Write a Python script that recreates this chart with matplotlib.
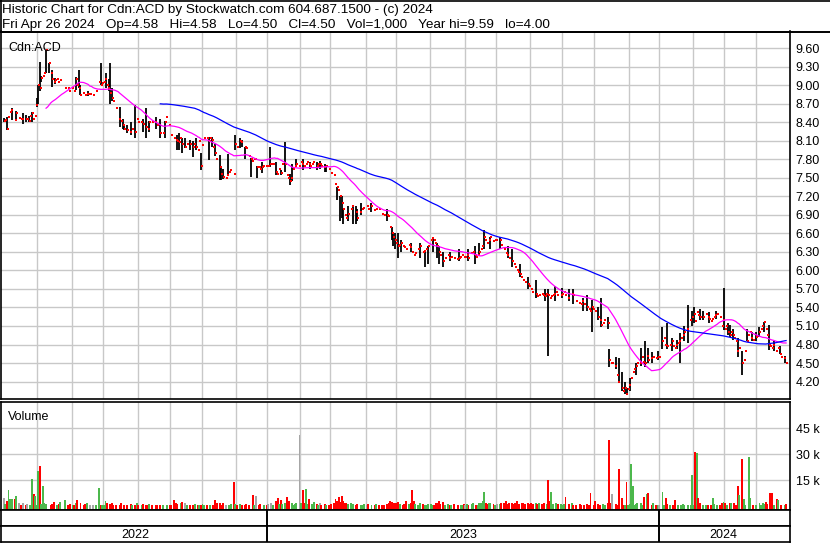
import numpy as np
import pandas as pd
import matplotlib
matplotlib.use("Agg")
import matplotlib.pyplot as plt
from matplotlib.lines import Line2D

plt.rcParams['font.family'] = ['Liberation Sans', 'DejaVu Sans']

# TSX holidays inside the window (no trading days)
holidays = ['2022-05-23', '2022-07-01', '2022-08-01', '2022-09-05', '2022-10-10',
            '2022-12-26', '2022-12-27', '2023-01-02', '2023-02-20', '2023-04-07',
            '2023-05-22', '2023-07-03', '2023-08-07', '2023-09-04', '2023-10-09',
            '2023-12-25', '2023-12-26', '2024-01-01', '2024-02-19', '2024-03-29']

# Daily closes, one list per month
c_2204 = [8.42]
c_2205 = [8.44, 8.30, 8.48, 8.57, 8.60, 8.52, 8.44, 8.55, 8.47, 8.47, 8.45, 8.45, 8.47, 8.45, 8.45, 8.42, 8.50, 8.55, 8.45, 8.50, 8.68]
c_2206 = [9.00, 8.95, 9.12, 9.15, 9.20, 9.57, 9.00, 9.36, 9.20, 9.10, 9.05, 9.08, 9.10, 9.05, 9.08, 9.05, 8.90, 8.95, 9.00, 8.95, 8.90, 8.88]
c_2207 = [8.95, 8.90, 9.10, 9.00, 8.95, 8.85, 8.95, 8.88, 8.85, 8.86, 8.86, 8.86, 8.85, 8.85, 8.86, 8.90, 8.88, 9.05, 9.00, 9.04]
c_2208 = [9.05, 9.10, 9.00, 8.95, 8.87, 8.80, 8.75, 8.80, 8.63, 8.60, 8.45, 8.42, 8.35, 8.30, 8.32, 8.27, 8.27, 8.25, 8.30, 8.27, 8.25, 8.45]
c_2209 = [8.40, 8.38, 8.40, 8.38, 8.35, 8.33, 8.30, 8.40, 8.42, 8.40, 8.48, 8.40, 8.36, 8.35, 8.22, 8.20, 8.22, 8.40, 8.48, 8.38, 8.36]
c_2210 = [8.20, 8.18, 8.15, 8.12, 8.10, 8.08, 8.15, 8.05, 8.00, 8.00, 8.05, 8.10, 8.05, 8.02, 8.00, 8.05, 8.00, 7.95, 8.10, 7.70]
c_2211 = [8.03, 8.15, 8.17, 8.15, 8.10, 8.15, 8.12, 8.00, 7.90, 7.80, 7.72, 7.68, 7.57, 7.52, 7.50, 7.50, 7.55, 7.60, 7.62, 7.80, 7.57, 8.05]
c_2212 = [8.00, 8.08, 8.10, 8.08, 8.05, 8.00, 7.98, 7.95, 7.85, 7.80, 7.78, 7.80, 7.80, 7.68, 7.67, 7.65, 7.68, 7.70, 7.72, 7.70]
c_2301 = [7.70, 7.72, 7.72, 7.73, 7.70, 7.60, 7.57, 7.65, 7.58, 7.72, 7.70, 7.72, 7.55, 7.50, 7.45, 7.50, 7.65, 7.70, 7.72, 7.70, 7.70]
c_2302 = [7.75, 7.72, 7.70, 7.72, 7.75, 7.72, 7.70, 7.72, 7.75, 7.72, 7.70, 7.72, 7.72, 7.70, 7.72, 7.68, 7.70, 7.68, 7.65]
c_2303 = [7.58, 7.60, 7.55, 7.40, 7.35, 7.30, 7.20, 7.10, 7.00, 6.90, 6.85, 6.92, 6.95, 7.00, 7.05, 7.00, 6.95, 6.85, 6.90, 6.95, 7.00, 7.02, 7.05]
c_2304 = [7.05, 7.00, 7.02, 7.05, 7.00, 6.98, 7.00, 7.05, 7.00, 6.95, 6.92, 6.90, 6.92, 6.90, 6.88, 6.70, 6.60, 6.55, 6.50]
c_2305 = [6.45, 6.40, 6.42, 6.45, 6.40, 6.38, 6.35, 6.40, 6.42, 6.38, 6.30, 6.25, 6.28, 6.30, 6.35, 6.40, 6.38, 6.30, 6.32, 6.35, 6.40, 6.45]
c_2306 = [6.50, 6.52, 6.50, 6.45, 6.40, 6.30, 6.25, 6.20, 6.15, 6.20, 6.22, 6.25, 6.20, 6.22, 6.25, 6.20, 6.22, 6.18, 6.20, 6.22, 6.25, 6.22]
c_2307 = [6.22, 6.25, 6.20, 6.25, 6.28, 6.30, 6.25, 6.22, 6.25, 6.30, 6.35, 6.40, 6.55, 6.50, 6.45, 6.50, 6.55, 6.50, 6.48, 6.50]
c_2308 = [6.50, 6.45, 6.50, 6.42, 6.40, 6.35, 6.28, 6.25, 6.20, 6.22, 6.15, 6.10, 6.05, 6.00, 5.98, 5.95, 5.90, 5.85, 5.82, 5.80, 5.78, 5.75]
c_2309 = [5.70, 5.65, 5.60, 5.62, 5.58, 5.60, 5.65, 5.62, 5.60, 5.58, 5.62, 5.60, 5.55, 5.58, 5.60, 5.62, 5.65, 5.60, 5.58, 5.60]
c_2310 = [5.62, 5.65, 5.60, 5.58, 5.55, 5.60, 5.62, 5.60, 5.55, 5.50, 5.52, 5.48, 5.45, 5.50, 5.45, 5.42, 5.40, 5.38, 5.35, 5.40, 5.38]
c_2311 = [5.35, 5.30, 5.25, 5.20, 5.12, 5.15, 5.20, 5.18, 5.15, 4.55, 4.50, 4.50, 4.50, 4.45, 4.30, 4.20, 4.15, 4.10, 4.05, 4.10, 4.00, 4.08]
c_2312 = [4.15, 4.25, 4.35, 4.40, 4.45, 4.50, 4.48, 4.50, 4.60, 4.52, 4.50, 4.62, 4.55, 4.60, 4.58, 4.60, 4.62, 4.58, 4.60]
c_2401 = [4.60, 4.70, 4.85, 4.90, 4.80, 4.78, 4.75, 4.80, 4.85, 4.78, 4.75, 4.80, 4.82, 4.85, 4.90, 4.95, 5.00, 4.90, 5.05, 5.10, 5.20, 5.25]
c_2402 = [5.30, 5.18, 5.32, 5.28, 5.25, 5.20, 5.25, 5.28, 5.30, 5.25, 5.22, 5.18, 5.22, 5.25, 5.28, 5.30, 5.35, 5.25, 5.10, 5.20]
c_2403 = [5.05, 5.10, 5.00, 4.95, 5.00, 4.95, 4.90, 4.85, 4.70, 4.75, 4.60, 4.50, 4.55, 4.70, 4.85, 4.95, 5.00, 4.90, 4.88, 4.90]
c_2404 = [4.92, 4.95, 5.00, 5.05, 5.10, 5.16, 5.05, 4.95, 4.80, 4.78, 4.75, 4.80, 4.72, 4.70, 4.75, 4.65, 4.60, 4.55, 4.58, 4.50]

# Daily volume in thousands of shares (0 = no trade), one list per month
v_2204 = [4.5]
v_2205 = [1.0, 2.9, 9.5, 4.0, 4.0, 0, 4.0, 6.0, 0, 1.5, 0.8, 1.5, 0, 0.8, 1.0, 0, 0.8, 15.8, 7.0, 6.0, 0.8]
v_2206 = [20.0, 23.0, 1.0, 11.5, 1.5, 1.0, 0, 0, 0.8, 1.0, 2.5, 0, 0.8, 1.0, 2.5, 0, 0, 3.5, 0, 0.8, 1.0, 0]
v_2207 = [0.5, 0.8, 1.5, 3.3, 0, 1.5, 0, 0.8, 1.0, 2.0, 0, 0.5, 0, 0.5, 0, 0.5, 0, 10.5, 0.8, 0.5]
v_2208 = [0.8, 3.0, 2.0, 0, 1.0, 1.5, 0.8, 0, 0.5, 0, 0.8, 1.5, 0, 0.5, 0, 0.5, 0, 1.0, 0.5, 0, 0.8, 1.5]
v_2209 = [0.5, 0, 0.5, 1.0, 0, 0.5, 0.8, 1.0, 0, 0.5, 0, 0.5, 0.8, 0, 0.5, 0, 0.5, 0, 0.8, 0, 0.5]
v_2210 = [0.5, 0, 3.5, 1.5, 1.0, 0, 2.0, 2.5, 0, 1.5, 0.8, 0, 0.8, 0, 0.5, 1.0, 0, 0.5, 0.8, 0.5]
v_2211 = [1.0, 0.5, 0, 0.8, 0, 0.5, 0, 0.5, 3.5, 2.0, 0, 1.5, 0.8, 2.0, 0, 0.5, 0, 0.8, 1.0, 0, 14.0, 1.0]
v_2212 = [0.5, 0, 1.0, 0.5, 0, 0.8, 1.0, 0, 0.8, 0, 6.6, 0.5, 5.8, 0, 0.5, 1.0, 0, 0.5, 0, 0.8]
v_2301 = [1.0, 0, 1.5, 0.8, 0, 3.0, 4.5, 1.0, 3.5, 1.0, 0, 2.0, 5.0, 3.0, 0, 1.5, 0.8, 1.0, 2.0, 0, 41.0]
v_2302 = [2.0, 9.0, 1.5, 10.0, 1.0, 4.0, 0, 1.0, 2.5, 0, 1.0, 0.5, 1.5, 0.8, 0, 1.0, 0.5, 0, 0.5]
v_2303 = [1.0, 0, 2.0, 4.0, 3.0, 5.0, 2.5, 6.0, 3.0, 1.5, 2.0, 1.0, 0, 1.5, 1.0, 0, 0.8, 1.0, 0, 0.5, 0.8, 1.0, 0]
v_2304 = [0.5, 1.0, 0, 0.8, 0, 0.5, 1.0, 0, 0.5, 0, 0.8, 0.5, 0, 1.0, 1.5, 3.0, 2.5, 1.5, 2.0]
v_2305 = [1.5, 2.5, 1.0, 0, 0.8, 1.0, 3.0, 0, 1.0, 2.0, 9.0, 3.0, 1.0, 0, 0.8, 1.5, 0, 1.0, 0.5, 0.8, 1.0, 0]
v_2306 = [1.0, 0.5, 0.8, 1.5, 2.0, 3.0, 1.0, 0, 2.5, 0.8, 0, 1.0, 0.5, 0.8, 0, 1.0, 0, 0.5, 0, 0.8, 0.5, 1.0]
v_2307 = [0.5, 1.0, 0.8, 0, 1.0, 1.5, 0, 0.8, 0.5, 1.5, 2.0, 3.0, 8.0, 2.0, 1.0, 1.5, 2.0, 0, 1.0, 0.5]
v_2308 = [1.0, 0, 1.0, 1.5, 0, 2.0, 3.0, 1.0, 2.0, 0, 1.5, 1.0, 2.0, 3.0, 1.0, 0, 1.5, 2.0, 1.0, 0, 1.5, 1.0]
v_2309 = [2.0, 1.0, 0, 1.5, 1.0, 2.0, 0, 1.0, 1.5, 0, 1.0, 15.0, 3.0, 8.0, 1.0, 0, 1.5, 1.0, 0, 1.0]
v_2310 = [0.5, 1.0, 5.0, 0, 1.0, 0, 1.5, 0.5, 0, 0.8, 0, 1.0, 0.5, 0, 0.8, 0, 1.0, 0.5, 7.3, 0, 0.5]
v_2311 = [3.0, 0, 1.0, 0.5, 0, 1.0, 0.5, 0, 2.0, 38.2, 1.5, 6.9, 0, 1.0, 0.5, 21.4, 0, 4.5, 0.5, 0.8, 13.8, 0.8]
v_2312 = [1.0, 24.3, 11.5, 0.5, 1.0, 1.5, 0, 2.0, 0.5, 5.0, 0, 6.9, 7.3, 0, 0.5, 1.5, 0, 0.5, 0.8]
v_2401 = [0.5, 0, 8.0, 0.5, 4.7, 1.0, 0, 0.5, 0, 0.8, 3.4, 0, 0.5, 0, 0.8, 1.0, 0.5, 0, 0.5, 0, 0.5, 17.9]
v_2402 = [0.5, 31.3, 30.5, 4.5, 1.5, 0, 0.5, 0, 0.8, 0.5, 0, 0.5, 4.4, 1.0, 0, 0.5, 0, 0.5, 1.5, 2.5]
v_2403 = [1.5, 0.5, 0, 1.5, 2.0, 0, 1.5, 0.5, 11.5, 6.3, 0, 27.2, 4.0, 0.5, 0, 28.2, 4.5, 0, 0.5, 0]
v_2404 = [0.8, 0, 1.5, 0.5, 2.0, 1.0, 2.5, 1.0, 0, 7.8, 7.3, 0.5, 0, 4.0, 3.5, 0, 0.5, 0, 0.5, 1.0]

# Days with a visible high-low range: trading day index, low, high
bar_day = [0, 2, 5, 8, 12, 14, 16, 18, 21, 22, 23, 24, 27, 29, 31, 33, 46, 48, 49, 54, 62,
           65, 67, 68, 69, 74, 76, 77, 79, 81, 84, 89, 91, 93, 97, 100, 103, 111, 112, 114,
           116, 119, 121, 123, 126, 131, 133, 135, 138, 139, 140, 143, 148, 151, 152, 154,
           158, 162, 165, 170, 174, 177, 180, 183, 184, 187, 191, 196, 200, 202, 205, 206,
           213, 215, 216, 217, 220, 223, 225, 226, 228, 235, 245, 248, 249, 250, 252, 254,
           260, 266, 269, 271, 274, 277, 278, 281, 285, 291, 297, 301, 304, 307, 311, 317,
           322, 325, 330, 335, 340, 346, 348, 352, 357, 361, 364, 370, 373, 376, 380, 382,
           386, 387, 391, 393, 395, 397, 398, 400, 404, 407, 410, 412, 414, 418, 421, 424,
           427, 430, 432, 435, 437, 440, 441, 445, 447, 451, 455, 460, 463, 464, 466, 469,
           472, 475, 478, 481, 483, 486, 489, 492, 496, 499]
bar_lo = [8.40, 8.27, 8.44, 8.44, 8.38, 8.40, 8.40, 8.40, 8.65, 8.70, 8.90, 9.05, 9.20, 9.20,
          8.97, 9.02, 8.92, 8.95, 8.88, 8.82, 9.00, 8.95, 8.90, 8.70, 8.75, 8.32, 8.30, 8.27,
          8.22, 8.20, 8.15, 8.25, 8.15, 8.25, 8.30, 8.15, 8.15, 7.95, 7.95, 7.90, 7.98, 7.95,
          7.84, 7.95, 7.63, 7.79, 8.00, 7.85, 7.47, 7.47, 7.48, 7.60, 7.95, 7.98, 8.00, 7.80,
          7.51, 7.50, 7.58, 7.68, 7.55, 7.55, 7.60, 7.38, 7.45, 7.68, 7.62, 7.65, 7.63, 7.65,
          7.60, 7.60, 7.14, 6.80, 6.85, 6.75, 6.80, 6.75, 6.75, 6.80, 6.90, 6.95, 6.80, 6.50,
          6.40, 6.35, 6.20, 6.30, 6.30, 6.20, 6.05, 6.10, 6.30, 6.20, 6.10, 6.05, 6.15, 6.15,
          6.15, 6.10, 6.25, 6.35, 6.35, 6.35, 6.20, 6.05, 5.90, 5.70, 5.55, 5.50, 4.62, 5.50,
          5.55, 5.50, 5.45, 5.35, 5.35, 5.00, 5.20, 5.08, 5.05, 4.44, 4.40, 4.22, 4.05, 4.00,
          4.00, 4.05, 4.30, 4.45, 4.44, 4.50, 4.50, 4.55, 4.72, 4.72, 4.70, 4.72, 4.50, 4.85,
          4.82, 5.10, 5.15, 5.20, 5.20, 5.15, 5.22, 5.03, 4.95, 4.92, 4.88, 4.60, 4.30, 4.85,
          4.85, 4.85, 4.92, 5.00, 4.71, 4.70, 4.65, 4.50]
bar_hi = [8.47, 8.48, 8.63, 8.58, 8.55, 8.52, 8.50, 8.56, 8.80, 9.00, 9.38, 9.15, 9.57, 9.36,
          9.25, 9.12, 9.13, 9.25, 9.00, 8.90, 9.36, 9.20, 9.10, 9.36, 8.95, 8.65, 8.45, 8.35,
          8.35, 8.40, 8.68, 8.45, 8.63, 8.42, 8.48, 8.45, 8.42, 8.20, 8.23, 8.15, 8.15, 8.12,
          8.10, 8.15, 7.90, 8.16, 8.16, 8.05, 7.87, 7.70, 7.65, 7.88, 8.20, 8.15, 8.12, 8.00,
          7.82, 7.70, 7.75, 8.00, 7.75, 7.62, 8.08, 7.57, 7.72, 7.80, 7.80, 7.75, 7.75, 7.78,
          7.73, 7.70, 7.35, 7.10, 7.20, 7.00, 7.05, 7.00, 7.05, 7.00, 7.10, 7.10, 7.00, 6.70,
          6.60, 6.60, 6.60, 6.50, 6.45, 6.45, 6.30, 6.35, 6.55, 6.45, 6.40, 6.30, 6.30, 6.35,
          6.35, 6.40, 6.45, 6.65, 6.55, 6.55, 6.40, 6.35, 6.10, 5.90, 5.85, 5.70, 5.70, 5.75,
          5.72, 5.70, 5.70, 5.55, 5.60, 5.52, 5.40, 5.56, 5.25, 4.72, 4.60, 4.58, 4.35, 4.20,
          4.10, 4.25, 4.50, 4.75, 4.85, 4.75, 4.68, 4.70, 5.08, 5.15, 4.90, 4.88, 4.98, 5.10,
          5.44, 5.35, 5.40, 5.38, 5.35, 5.32, 5.35, 5.72, 5.15, 5.12, 5.05, 4.90, 4.70, 5.05,
          5.00, 5.00, 5.08, 5.16, 5.12, 4.85, 4.78, 4.62]

price_ticks = [4.20, 4.50, 4.80, 5.10, 5.40, 5.70, 6.00, 6.30, 6.60, 6.90, 7.20, 7.50,
               7.80, 8.10, 8.40, 8.70, 9.00, 9.30, 9.60]
vol_ticks = [15, 30, 45]
vol_labels = ["15 k", "30 k", "45 k"]

header1 = "Historic Chart for Cdn:ACD by Stockwatch.com 604.687.1500 - (c) 2024"
header2 = ("Fri Apr 26 2024   Op=4.58   Hi=4.58   Lo=4.50   Cl=4.50   "
           "Vol=1,000   Year hi=9.59   lo=4.00")

# ---- assemble the series ----
close = np.array(c_2204 + c_2205 + c_2206 + c_2207 + c_2208 + c_2209 + c_2210 + c_2211 +
                 c_2212 + c_2301 + c_2302 + c_2303 + c_2304 + c_2305 + c_2306 + c_2307 +
                 c_2308 + c_2309 + c_2310 + c_2311 + c_2312 + c_2401 + c_2402 + c_2403 + c_2404)
volume = np.array(v_2204 + v_2205 + v_2206 + v_2207 + v_2208 + v_2209 + v_2210 + v_2211 +
                  v_2212 + v_2301 + v_2302 + v_2303 + v_2304 + v_2305 + v_2306 + v_2307 +
                  v_2308 + v_2309 + v_2310 + v_2311 + v_2312 + v_2401 + v_2402 + v_2403 + v_2404)
dates = pd.bdate_range('2022-04-29', '2024-04-26', freq='C', holidays=holidays)
n = min(len(dates), len(close), len(volume))
dates, close, volume = dates[:n], close[:n], volume[:n]
x = np.arange(n)

high = close.copy()
low = close.copy()
for d, lo, hi in zip(bar_day, bar_lo, bar_hi):
    if d < n:
        low[d] = min(lo, close[d])
        high[d] = max(hi, close[d])

ma_short = pd.Series(close).rolling(28).mean()
ma_long = pd.Series(close).rolling(101).mean()

chg = np.diff(close, prepend=close[0])
vcol = np.where(chg > 0, '#4cb84c', np.where(chg < 0, '#ff0000', '#a6a6a6'))
traded = (volume > 0) | (high > low)

month_start = [i for i in range(1, n) if dates[i].month != dates[i - 1].month and i > 3]
year_start = [i for i in range(1, n) if dates[i].year != dates[i - 1].year]

# ---- layout in pixels ----
W, H = 830, 543
def rect(x0, y0, x1, y1):
    return [x0 / W, 1 - y1 / H, (x1 - x0) / W, (y1 - y0) / H]

fig = plt.figure(figsize=(W / 100, H / 100), dpi=100)
xlim = (-1.8, 502.5)
grid_c = '#c8c8c8'
frame_lw = 1.2

ax = fig.add_axes(rect(1, 31.5, 790, 398.5))
axv = fig.add_axes(rect(1, 401.5, 790, 509.5))
row1 = fig.add_axes(rect(1, 509.5, 790, 526))
row2 = fig.add_axes(rect(1, 526, 790, 541.5))

# price panel
for m in month_start:
    ax.axvline(m - 0.5, color=grid_c, lw=1.0, zorder=0)
for p in price_ticks:
    ax.axhline(p, color=grid_c, lw=1.0, zorder=0)
ax.vlines(x, low, high, color='black', lw=1.3, zorder=2)
ax.plot(x[traded] + 0.5, close[traded], 's', color='#ff0000', ms=2.1, mew=0, zorder=3)
ax.plot(x, ma_short, color='#ff00ff', lw=0.9, zorder=4)
ax.plot(x, ma_long, color='#0000ff', lw=0.9, zorder=4)
ax.set_xlim(*xlim)
ax.set_ylim(3.925, 9.872)
ax.set_xticks([])
ax.yaxis.tick_right()
ax.set_yticks(price_ticks)
ax.set_yticklabels(["%.2f" % p for p in price_ticks])
ax.tick_params(axis='y', length=0, pad=4, labelsize=9)
ax.text(0.009, 0.948, "Cdn:ACD", transform=ax.transAxes, fontsize=9, va='baseline')

# volume panel
vol_floor = -2.0
for m in month_start:
    axv.axvline(m - 0.5, color=grid_c, lw=1.0, zorder=0)
for v in vol_ticks:
    axv.axhline(v, color=grid_c, lw=1.0, zorder=0)
has_vol = volume > 0
axv.bar(x[has_vol], volume[has_vol] - vol_floor, bottom=vol_floor, width=1.25,
        color=vcol[has_vol], lw=0, zorder=2)
axv.set_xlim(*xlim)
axv.set_ylim(vol_floor, 60.3)
axv.set_xticks([])
axv.yaxis.tick_right()
axv.set_yticks(vol_ticks)
axv.set_yticklabels(vol_labels)
axv.tick_params(axis='y', length=0, pad=4, labelsize=9)
axv.text(0.009, 0.83, "Volume", transform=axv.transAxes, fontsize=9, va='baseline')

# date rows
edges = [-0.5] + [y - 0.5 for y in year_start] + [n - 0.5 + 1.0]
for r in (row1, row2):
    r.set_xlim(*xlim)
    r.set_ylim(0, 1)
    r.set_xticks([])
    r.set_yticks([])
    for y in year_start:
        r.axvline(y - 0.5, color='black', lw=1.4)
for k in range(len(edges) - 1):
    mid = (edges[k] + edges[k + 1]) / 2
    row2.text(mid, 0.42, str(dates[0].year + k), ha='center', va='center', fontsize=9)

for a in (ax, axv, row1, row2):
    for s in a.spines.values():
        s.set_linewidth(frame_lw)
        s.set_color('black')

# header box
fig.add_artist(Line2D([0, 1], [1 - 0.6 / H] * 2, color='black', lw=1.2, transform=fig.transFigure))
fig.add_artist(Line2D([0, 1], [1 - 31.5 / H] * 2, color='black', lw=1.4, transform=fig.transFigure))
fig.add_artist(Line2D([0.6 / W] * 2, [1 - 31.5 / H, 1], color='black', lw=1.2, transform=fig.transFigure))
fig.text(2 / W, 1 - 13.3 / H, header1, fontsize=9.7, va='baseline', ha='left')
fig.text(2 / W, 1 - 28.3 / H, header2, fontsize=9.7, va='baseline', ha='left')

fig.savefig("out.png", dpi=100)
